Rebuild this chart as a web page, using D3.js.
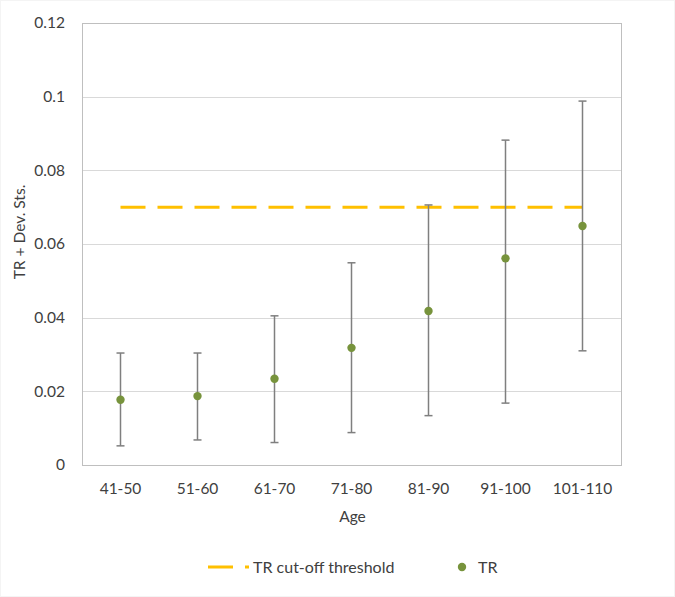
<!DOCTYPE html>
<html>
<head>
<meta charset="utf-8">
<script src="https://cdn.jsdelivr.net/npm/d3@7"></script>
<style>
  html, body { margin: 0; padding: 0; background: #fff; }
  svg { display: block; font-family: Lato, "Open Sans", sans-serif; }
</style>
</head>
<body>
<svg id="chart" width="675" height="597"></svg>
<script>
const categories = ["41-50", "51-60", "61-70", "71-80", "81-90", "91-100", "101-110"];
const trValues   = [0.0177, 0.0187, 0.0234, 0.0318, 0.0418, 0.0561, 0.0649];
const upperValues = [0.0304, 0.0304, 0.0405, 0.0549, 0.0706, 0.0882, 0.0988];
const lowerValues = [0.0052, 0.0068, 0.0061, 0.0088, 0.0134, 0.0168, 0.0310];
const thresholdValue = 0.07;
const yTicks = [0, 0.02, 0.04, 0.06, 0.08, 0.1, 0.12];
const yTickLabels = ["0", "0.02", "0.04", "0.06", "0.08", "0.1", "0.12"];

const svg = d3.select("#chart");
const plot = { left: 82, right: 621, top: 23, bottom: 465 };

// faint outer chart border
svg.append("rect").attr("x", 0.5).attr("y", 0.5).attr("width", 674).attr("height", 596)
  .attr("fill", "none").attr("stroke", "#f4f4f4");

const x = d3.scaleBand().domain(categories).range([plot.left, plot.right]);
const y = d3.scaleLinear().domain([0, 0.12]).range([plot.bottom, plot.top]);
const cx = c => x(c) + x.bandwidth() / 2;

// gridlines
svg.append("g").selectAll("line").data(yTicks.slice(1, -1)).join("line")
  .attr("x1", plot.left).attr("x2", plot.right)
  .attr("y1", d => Math.round(y(d)) + 0.5).attr("y2", d => Math.round(y(d)) + 0.5)
  .attr("stroke", "#d9d9d9").attr("stroke-width", 1);

// plot border
svg.append("rect").attr("x", plot.left + 0.5).attr("y", Math.round(plot.top) + 0.5)
  .attr("width", plot.right - plot.left).attr("height", plot.bottom - plot.top)
  .attr("fill", "none").attr("stroke", "#bfbfbf").attr("stroke-width", 1);

// y axis labels
const yAxis = d3.axisLeft(y).tickValues(yTicks)
  .tickFormat((d, i) => yTickLabels[i]).tickSize(0).tickPadding(17);
const yg = svg.append("g").attr("transform", `translate(${plot.left},0)`).call(yAxis);
yg.select(".domain").remove();
yg.selectAll("text").attr("font-size", 15.5).attr("fill", "#404040")
  .attr("font-family", "Lato, sans-serif");

// x axis labels
const xAxis = d3.axisBottom(x).tickSize(0).tickPadding(18);
const xg = svg.append("g").attr("transform", `translate(0,${plot.bottom})`).call(xAxis);
xg.select(".domain").remove();
xg.selectAll("text").attr("font-size", 15.5).attr("fill", "#404040")
  .attr("font-family", "Lato, sans-serif");

// axis titles
svg.append("text").attr("x", (plot.left + plot.right) / 2 + 1).attr("y", 522)
  .attr("text-anchor", "middle").attr("font-size", 15.5).attr("fill", "#404040").text("Age");
svg.append("text").attr("transform", "translate(25,232) rotate(-90)")
  .attr("text-anchor", "middle").attr("font-size", 15.5).attr("fill", "#404040").text("TR + Dev. Sts.");

// threshold line
svg.append("line")
  .attr("x1", cx(categories[0])).attr("x2", cx(categories[categories.length - 1]))
  .attr("y1", y(thresholdValue)).attr("y2", y(thresholdValue))
  .attr("stroke", "#FFC000").attr("stroke-width", 3).attr("stroke-dasharray", "25,12");

// error bars
const eb = svg.append("g").attr("stroke", "#7f7f7f").attr("stroke-width", 1.5);
categories.forEach((c, i) => {
  const xc = cx(c);
  eb.append("line").attr("x1", xc).attr("x2", xc).attr("y1", y(upperValues[i])).attr("y2", y(lowerValues[i]));
  eb.append("line").attr("x1", xc - 4).attr("x2", xc + 4).attr("y1", y(upperValues[i])).attr("y2", y(upperValues[i]));
  eb.append("line").attr("x1", xc - 4).attr("x2", xc + 4).attr("y1", y(lowerValues[i])).attr("y2", y(lowerValues[i]));
});

// points
svg.append("g").selectAll("circle").data(categories).join("circle")
  .attr("cx", d => cx(d)).attr("cy", (d, i) => y(trValues[i])).attr("r", 4.2)
  .attr("fill", "#77933C");

// legend
const lg = svg.append("g");
lg.append("line").attr("x1", 208).attr("x2", 249).attr("y1", 567).attr("y2", 567)
  .attr("stroke", "#FFC000").attr("stroke-width", 3).attr("stroke-dasharray", "25,12");
lg.append("text").attr("x", 253).attr("y", 572.5).attr("font-size", 16).attr("fill", "#404040")
  .text("TR cut-off threshold");
lg.append("circle").attr("cx", 462).attr("cy", 567).attr("r", 4.2).attr("fill", "#77933C");
lg.append("text").attr("x", 478).attr("y", 572.5).attr("font-size", 16).attr("fill", "#404040").text("TR");
</script>
</body>
</html>
